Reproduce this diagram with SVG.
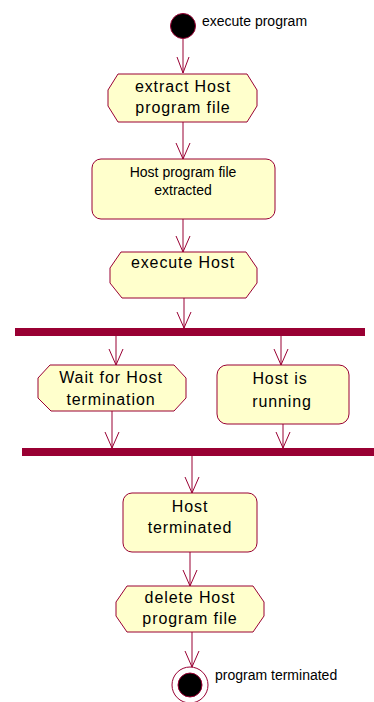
<svg xmlns="http://www.w3.org/2000/svg" width="374" height="702" viewBox="0 0 374 702">
<style>
.act{fill:#FFFFCC;stroke:#990033;stroke-width:1}
.lbl{font-family:"Liberation Sans",Arial,sans-serif;font-size:16px;fill:#000;text-anchor:middle;letter-spacing:0.9px}
.sm{font-family:"Liberation Sans",Arial,sans-serif;font-size:14px;fill:#000}
.smc{font-family:"Liberation Sans",Arial,sans-serif;font-size:14px;fill:#000;text-anchor:middle}
.bar{fill:#990033}
.con line{stroke:#990033;stroke-width:1}
.con path{fill:none;stroke:#990033;stroke-width:1}
</style>
<rect width="374" height="702" fill="#fff"/>
<g id="start">
<circle cx="183" cy="26" r="12.5" fill="#000" stroke="#990033" stroke-width="1"/>
<text class="sm" x="202" y="26">execute program</text>
</g>
<g id="extract">
<polygon class="act" points="118,74 247,74 257,90 257,106 247,122 118,122 108,106 108,90"/>
<text class="lbl" x="183" y="92">extract Host</text>
<text class="lbl" x="183" y="113">program file</text>
</g>
<g id="extracted">
<rect class="act" x="92" y="159" width="183" height="60" rx="9"/>
<text class="smc" x="183" y="177">Host program file</text>
<text class="smc" x="183" y="195">extracted</text>
</g>
<g id="executeHost">
<polygon class="act" points="121,252 246,252 257,268 257,283 246,298 122,298 110,283 110,268"/>
<text class="lbl" x="183" y="268">execute Host</text>
</g>
<g id="fork">
<rect class="bar" x="15" y="328" width="350" height="8"/>
</g>
<g id="wait">
<polygon class="act" points="50,365 174,365 186,378 186,398 174,411 51,411 38,398 38,378"/>
<text class="lbl" x="111" y="383">Wait for Host</text>
<text class="lbl" x="111" y="405">termination</text>
</g>
<g id="running">
<rect class="act" x="217" y="365" width="132" height="59" rx="10"/>
<text class="lbl" x="280" y="384">Host is</text>
<text class="lbl" x="282" y="407">running</text>
</g>
<g id="join">
<rect class="bar" x="22" y="448" width="352" height="8"/>
</g>
<g id="terminated">
<rect class="act" x="123" y="493" width="134" height="59" rx="9"/>
<text class="lbl" x="190" y="512">Host</text>
<text class="lbl" x="190" y="533">terminated</text>
</g>
<g id="delete">
<polygon class="act" points="127,586 253,586 264,602 264,616 253,632 127,632 116,616 116,602"/>
<text class="lbl" x="190" y="603">delete Host</text>
<text class="lbl" x="190" y="624">program file</text>
</g>
<g id="end">
<circle cx="190" cy="685" r="18" fill="#fff" stroke="#990033" stroke-width="1"/>
<circle cx="190" cy="685" r="12" fill="#000" stroke="#990033" stroke-width="1"/>
<text class="sm" x="215" y="680">program terminated</text>
</g>
<g id="connectors" class="con">
<line x1="183" y1="39" x2="183" y2="73"/>
<path d="M177,57 L183,73 L189,57"/>
<line x1="183" y1="122" x2="183" y2="159"/>
<path d="M176,143 L183,159 L190,143"/>
<line x1="183" y1="219" x2="183" y2="252"/>
<path d="M176,236 L183,252 L190,236"/>
<line x1="184" y1="298" x2="184" y2="328"/>
<path d="M177,312 L184,328 L191,312"/>
<line x1="116" y1="336" x2="116" y2="365"/>
<path d="M109,349 L116,365 L123,349"/>
<line x1="281" y1="336" x2="281" y2="365"/>
<path d="M274,349 L281,365 L288,349"/>
<line x1="112" y1="411" x2="112" y2="448"/>
<path d="M105,432 L112,448 L119,432"/>
<line x1="283" y1="424" x2="283" y2="448"/>
<path d="M276,432 L283,448 L290,432"/>
<line x1="192" y1="456" x2="192" y2="493"/>
<path d="M185,477 L192,493 L199,477"/>
<line x1="190" y1="552" x2="190" y2="586"/>
<path d="M183,570 L190,586 L197,570"/>
<line x1="192" y1="632" x2="192" y2="667"/>
<path d="M185,651 L192,667 L199,651"/>
</g>
</svg>
